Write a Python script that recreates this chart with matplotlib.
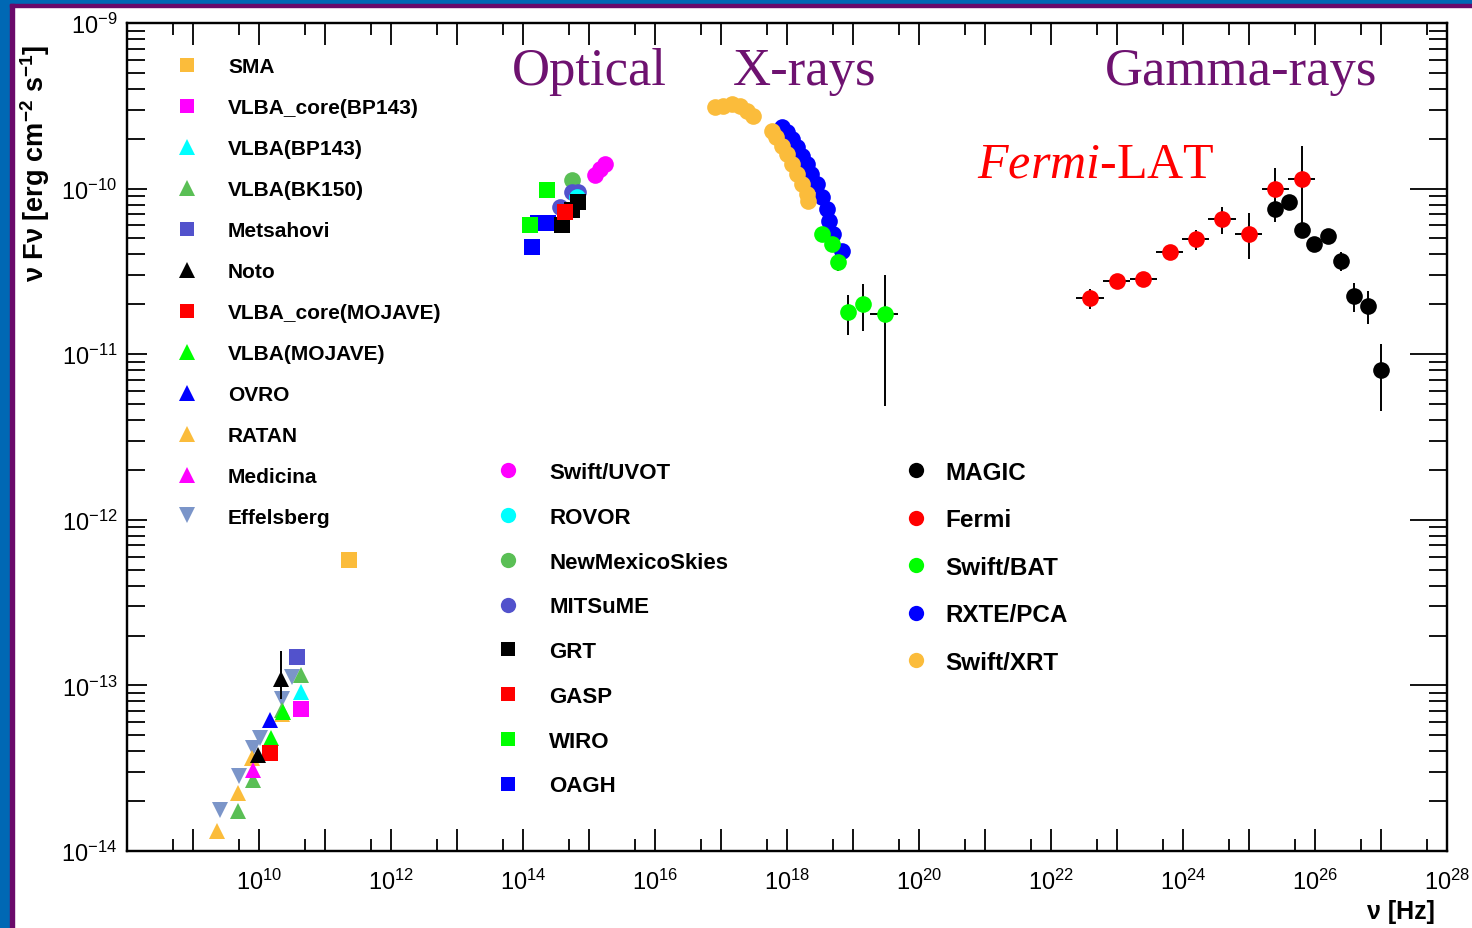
import numpy as np
import matplotlib.pyplot as plt
from matplotlib.patches import Rectangle
from matplotlib.lines import Line2D
from matplotlib.ticker import FixedLocator, LogLocator, NullFormatter, FuncFormatter

plt.rcParams['font.family'] = ['Liberation Sans', 'DejaVu Sans']
plt.rcParams['mathtext.fontset'] = 'custom'
plt.rcParams['mathtext.rm'] = 'Liberation Sans'
plt.rcParams['mathtext.bf'] = 'Liberation Sans:bold'
plt.rcParams['mathtext.it'] = 'Liberation Serif:italic'

# all values are log10(nu / Hz) and log10(nuFnu / erg cm^-2 s^-1)

# radio
sma_nu, sma_f = [11.36], [-12.24]
vlba_core_bp_nu, vlba_core_bp_f = [10.63], [-13.14]
vlba_bp_nu, vlba_bp_f = [10.63], [-13.04]
vlba_bk_nu, vlba_bk_f = [9.68, 9.91, 10.35, 10.64], [-13.76, -13.57, -13.15, -12.94]
metsahovi_nu, metsahovi_f = [10.57], [-12.83]
noto_nu, noto_f = [9.98, 10.33], [-13.42, -12.96]
noto_lo, noto_hi = [-13.44, -13.08], [-13.40, -12.79]
vlba_core_moj_nu, vlba_core_moj_f = [10.17], [-13.41]
vlba_moj_nu, vlba_moj_f = [10.18, 10.36], [-13.32, -13.16]
ovro_nu, ovro_f = [10.17], [-13.21]
ratan_nu, ratan_f = [9.36, 9.68, 9.89, 10.35], [-13.88, -13.65, -13.44, -13.17]
medicina_nu, medicina_f = [9.91], [-13.51]
effelsberg_nu = [9.41, 9.69, 9.91, 10.02, 10.35, 10.50]
effelsberg_f = [-13.75, -13.55, -13.38, -13.32, -13.08, -12.95]

# optical / UV
uvot_nu, uvot_f = [15.09, 15.17, 15.24], [-9.92, -9.88, -9.85]
rovor_nu, rovor_f = [14.82], [-10.05]
nms_nu, nms_f = [14.74], [-9.95]
mitsume_nu, mitsume_f = [14.74, 14.84, 14.56], [-10.02, -10.02, -10.11]
grt_nu, grt_f = [14.84, 14.74, 14.59], [-10.08, -10.13, -10.22]
gasp_nu, gasp_f = [14.64], [-10.14]
wiro_nu, wiro_f = [14.36, 14.11], [-10.01, -10.22]
oagh_nu, oagh_f = [14.23, 14.38, 14.13], [-10.21, -10.21, -10.35]

# X-rays
xrt_nu = [16.91, 17.03, 17.16, 17.29, 17.39, 17.49, 17.77, 17.84, 17.92,
          18.00, 18.07, 18.15, 18.22, 18.30, 18.32]
xrt_f = [-9.509, -9.499, -9.489, -9.499, -9.530, -9.560, -9.650, -9.690, -9.741,
         -9.791, -9.851, -9.912, -9.972, -10.033, -10.073]
pca_nu = [17.92, 18.00, 18.07, 18.15, 18.22, 18.30, 18.37, 18.45, 18.53,
          18.60, 18.63, 18.70, 18.83]
pca_f = [-9.630, -9.660, -9.700, -9.751, -9.801, -9.851, -9.912, -9.972, -10.053,
         -10.123, -10.194, -10.274, -10.375]
bat_nu = [18.53, 18.68, 18.78, 18.93, 19.15, 19.48]
bat_f = [-10.274, -10.335, -10.445, -10.747, -10.697, -10.757]
bat_lo = [-10.31, -10.37, -10.50, -10.884, -10.858, -11.311]
bat_hi = [-10.24, -10.30, -10.40, -10.643, -10.576, -10.522]
bat_nu_lo = [18.53, 18.68, 18.78, 18.93, 19.15, 19.26]
bat_nu_hi = [18.53, 18.68, 18.78, 18.93, 19.15, 19.68]

# gamma-rays
fermi_nu = [22.59, 23.00, 23.39, 23.80, 24.19, 24.59, 25.00, 25.40, 25.80]
fermi_nu_lo = [22.38, 22.79, 23.20, 23.59, 23.98, 24.38, 24.79, 25.19, 25.59]
fermi_nu_hi = [22.80, 23.20, 23.60, 24.00, 24.39, 24.80, 25.20, 25.60, 26.00]
fermi_f = [-10.660, -10.556, -10.546, -10.385, -10.304, -10.184, -10.274, -10.002, -9.942]
fermi_lo = [-10.727, -10.590, -10.580, -10.420, -10.371, -10.274, -10.425, -10.127, -10.256]
fermi_hi = [-10.606, -10.520, -10.515, -10.350, -10.248, -10.113, -10.147, -9.877, -9.741]
magic_nu = [25.39, 25.60, 25.80, 25.99, 26.20, 26.39, 26.59, 26.80, 27.00]
magic_f = [-10.123, -10.083, -10.248, -10.335, -10.284, -10.435, -10.647, -10.707, -11.094]
magic_lo = [-10.203, -10.100, -10.294, -10.350, -10.300, -10.496, -10.743, -10.818, -11.341]
magic_hi = [-10.063, -10.070, -10.214, -10.320, -10.270, -10.385, -10.570, -10.617, -10.938]

orange = '#fbbc3b'
magenta = '#ff00ff'
cyan = '#00ffff'
green = '#5abf55'
slate = '#5252cc'
lime = '#00ff00'
blue = '#0000ff'
steel = '#7b95c9'
purple = '#6e1270'

W, H = 1472, 929
fig = plt.figure(figsize=(W / 100, H / 100), dpi=100)
ax = fig.add_axes([127 / W, 1 - 852 / H, 1320 / W, 828 / H])
ax.set_xscale('log')
ax.set_yscale('log')


def p10(v):
    return 10.0 ** np.array(v)


def draw(nu, f, marker, color, ms, z=3):
    ax.plot(p10(nu), p10(f), ls='none', marker=marker, color=color, ms=ms, mew=0, zorder=z)


def draw_err(nu, f, lo, hi, marker, color, ms, nlo=None, nhi=None, z=3):
    x, y = p10(nu), p10(f)
    yerr = [y - p10(lo), p10(hi) - y]
    xerr = None if nlo is None else [x - p10(nlo), p10(nhi) - x]
    ax.errorbar(x, y, yerr=yerr, xerr=xerr, fmt=marker, color=color, ms=ms, mew=0,
                ecolor='black', elinewidth=1.4, capsize=4, capthick=1.4, zorder=z)


# radio
draw(effelsberg_nu, effelsberg_f, 'v', steel, 12)
draw(ratan_nu, ratan_f, '^', orange, 12)
draw(vlba_bk_nu, vlba_bk_f, '^', green, 12)
draw(medicina_nu, medicina_f, '^', magenta, 12)
draw_err(noto_nu, noto_f, noto_lo, noto_hi, '^', 'black', 12)
draw(vlba_moj_nu, vlba_moj_f, '^', lime, 12)
draw(ovro_nu, ovro_f, '^', blue, 12)
draw(vlba_core_moj_nu, vlba_core_moj_f, 's', 'red', 11)
draw(vlba_bp_nu, vlba_bp_f, '^', cyan, 12)
draw(vlba_core_bp_nu, vlba_core_bp_f, 's', magenta, 11)
draw(metsahovi_nu, metsahovi_f, 's', slate, 11)
draw(sma_nu, sma_f, 's', orange, 11)

# optical
draw(oagh_nu, oagh_f, 's', blue, 11)
draw(wiro_nu, wiro_f, 's', lime, 11)
draw(nms_nu, nms_f, 'o', green, 12)
draw(mitsume_nu, mitsume_f, 'o', slate, 12)
draw(rovor_nu, rovor_f, 'o', cyan, 12)
draw(grt_nu, grt_f, 's', 'black', 11)
draw(gasp_nu, gasp_f, 's', 'red', 11)
draw(uvot_nu, uvot_f, 'o', magenta, 12)

# X-rays
draw_err(bat_nu, bat_f, bat_lo, bat_hi, 'o', lime, 12, bat_nu_lo, bat_nu_hi)
draw(pca_nu, pca_f, 'o', blue, 12)
draw(xrt_nu, xrt_f, 'o', orange, 12)

# gamma-rays
draw_err(magic_nu, magic_f, magic_lo, magic_hi, 'o', 'black', 12)
draw_err(fermi_nu, fermi_f, fermi_lo, fermi_hi, 'o', 'red', 12, fermi_nu_lo, fermi_nu_hi)

ax.set_xlim(1e8, 1e28)
ax.set_ylim(1e-14, 1e-9)

# ticks
ax.xaxis.set_major_locator(FixedLocator(10.0 ** np.arange(8, 29)))
ax.xaxis.set_minor_locator(FixedLocator(5 * 10.0 ** np.arange(8, 28)))


def xfmt(v, pos):
    e = int(round(np.log10(v)))
    return r'$\mathregular{10^{%d}}$' % e if e % 2 == 0 and e > 8 else ''


ax.xaxis.set_major_formatter(FuncFormatter(xfmt))
ax.xaxis.set_minor_formatter(NullFormatter())
ax.yaxis.set_major_locator(LogLocator(base=10, numticks=20))
ax.yaxis.set_minor_locator(LogLocator(base=10, subs=np.arange(2, 10), numticks=20))
ax.yaxis.set_major_formatter(FuncFormatter(lambda v, p: r'$\mathregular{10^{%d}}$' % int(round(np.log10(v)))))
ax.yaxis.set_minor_formatter(NullFormatter())

ax.tick_params(axis='x', which='major', direction='in', top=True, length=16, width=1.3,
               labelsize=17, pad=13)
ax.tick_params(axis='x', which='minor', direction='in', top=True, length=8.5, width=1.3)
ax.tick_params(axis='y', which='major', direction='in', length=14.5, width=1.3,
               labelsize=17, pad=7)
ax.tick_params(axis='y', which='minor', direction='in', length=13, width=1.3)
for s in ax.spines.values():
    s.set_linewidth(1.6)

axr = ax.twinx()
axr.set_yscale('log')
axr.set_ylim(1e-14, 1e-9)
axr.yaxis.set_major_locator(LogLocator(base=10, numticks=20))
axr.yaxis.set_minor_locator(LogLocator(base=10, subs=np.arange(2, 10), numticks=20))
axr.tick_params(axis='y', which='major', direction='in', length=26.5, width=1.3, labelright=False)
axr.tick_params(axis='y', which='minor', direction='in', length=13, width=1.3, labelright=False)
for s in axr.spines.values():
    s.set_linewidth(1.6)


# legends
def proxy(marker, color, ms):
    return Line2D([], [], ls='none', marker=marker, color=color, ms=ms, mew=0)


radio_labels = ['SMA', 'VLBA_core(BP143)', 'VLBA(BP143)', 'VLBA(BK150)', 'Metsahovi', 'Noto',
                'VLBA_core(MOJAVE)', 'VLBA(MOJAVE)', 'OVRO', 'RATAN', 'Medicina', 'Effelsberg']
radio_handles = [proxy('s', orange, 10), proxy('s', magenta, 10), proxy('^', cyan, 11),
                 proxy('^', green, 11), proxy('s', slate, 10), proxy('^', 'black', 11),
                 proxy('s', 'red', 10), proxy('^', lime, 11), proxy('^', blue, 11),
                 proxy('^', orange, 11), proxy('^', magenta, 11), proxy('v', steel, 11)]
opt_labels = ['Swift/UVOT', 'ROVOR', 'NewMexicoSkies', 'MITSuME', 'GRT', 'GASP', 'WIRO', 'OAGH']
opt_handles = [proxy('o', magenta, 11), proxy('o', cyan, 11), proxy('o', green, 11),
               proxy('o', slate, 11), proxy('s', 'black', 10), proxy('s', 'red', 10),
               proxy('s', lime, 10), proxy('s', blue, 10)]
hi_labels = ['MAGIC', 'Fermi', 'Swift/BAT', 'RXTE/PCA', 'Swift/XRT']
hi_handles = [proxy('o', 'black', 11), proxy('o', 'red', 11), proxy('o', lime, 11),
              proxy('o', blue, 11), proxy('o', orange, 11)]

common = dict(loc='upper left', bbox_transform=fig.transFigure, frameon=False, borderpad=0,
              borderaxespad=0, numpoints=1, handlelength=1.0)
leg1 = ax.legend(radio_handles, radio_labels, bbox_to_anchor=(176.6 / W, 1 - 58 / H),
                 prop={'weight': 'bold', 'size': 15}, handletextpad=1.47, labelspacing=1.055,
                 **common)
ax.add_artist(leg1)
leg2 = ax.legend(opt_handles, opt_labels, bbox_to_anchor=(496.9 / W, 1 - 463 / H),
                 prop={'weight': 'bold', 'size': 16}, handletextpad=1.35, labelspacing=1.07,
                 **common)
ax.add_artist(leg2)
ax.legend(hi_handles, hi_labels, bbox_to_anchor=(904 / W, 1 - 462 / H),
          prop={'weight': 'bold', 'size': 17.5}, handletextpad=0.7, labelspacing=1.005,
          **common)

# band labels
serif = ['Liberation Serif', 'DejaVu Serif']
for txt, xl in [('Optical', 512), ('X-rays', 733), ('Gamma-rays', 1105)]:
    fig.text(xl / W, 1 - 85 / H, txt, family=serif, color=purple, fontsize=38, va='baseline')
fig.text(977 / W, 1 - 178 / H, r'$\mathit{Fermi}$-LAT', family=serif, color='red',
         fontsize=36, va='baseline')

# axis titles
fig.text(35 / W, 1 - 45 / H, r'ν Fν [erg cm$\mathbf{^{-2}}$ s$\mathbf{^{-1}}$]',
         rotation=90, ha='center', va='top', fontsize=19.5, fontweight='bold')
fig.text(1435 / W, 1 - 912 / H, 'ν [Hz]', ha='right', va='center', fontsize=18,
         fontweight='bold')

# slide frame
fig.add_artist(Rectangle((0, 0), 10 / W, 1, transform=fig.transFigure, color='#0068b4', zorder=10))
fig.add_artist(Rectangle((0, 1 - 5 / H), 1, 5 / H, transform=fig.transFigure, color='#0068b4', zorder=10))
fig.add_artist(Rectangle((10 / W, 0), 4 / W, 1 - 5 / H, transform=fig.transFigure, color='#6a0a6a', zorder=10))
fig.add_artist(Rectangle((10 / W, 1 - 8 / H), 1 - 10 / W, 3 / H, transform=fig.transFigure, color='#6a0a6a', zorder=10))

fig.savefig('out.png', dpi=100)
